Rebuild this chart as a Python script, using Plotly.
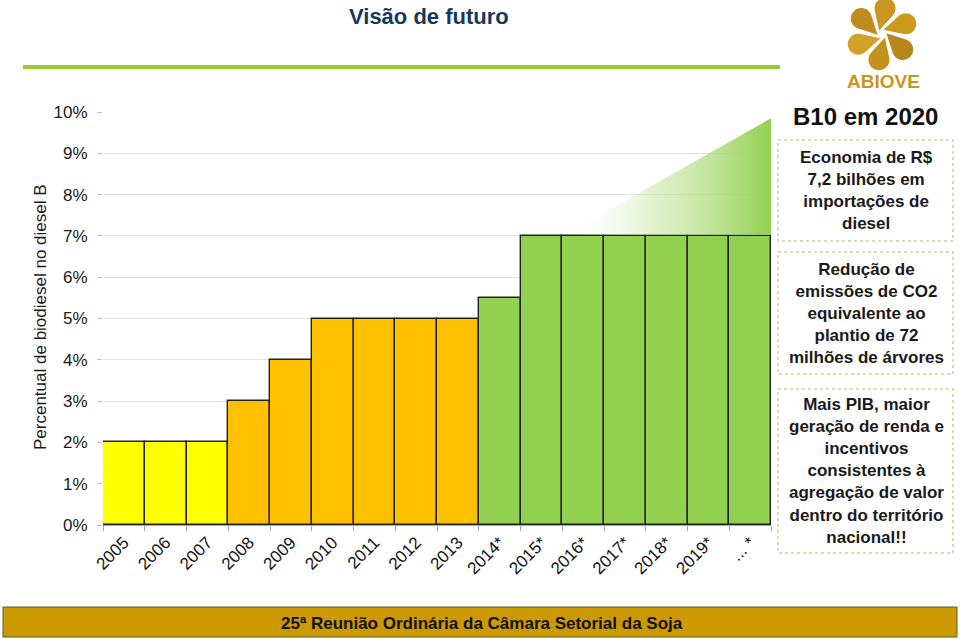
import numpy as np
import plotly.graph_objects as go

# ---------------- data ----------------
categories = ["2005", "2006", "2007", "2008", "2009", "2010", "2011", "2012", "2013",
              "2014*", "2015*", "2016*", "2017*", "2018*", "2019*", "... *"]
values_pct = [2, 2, 2, 3, 4, 5, 5, 5, 5, 5.5, 7, 7, 7, 7, 7, 7]
y_ticks_pct = [0, 1, 2, 3, 4, 5, 6, 7, 8, 9, 10]

title_text = "Visão de futuro"
y_title = "Percentual de biodiesel no diesel B"
headline = "B10 em 2020"
box_texts = [
    "Economia de R$<br>7,2 bilhões em<br>importações de<br>diesel",
    "Redução de<br>emissões de CO2<br>equivalente ao<br>plantio de 72<br>milhões de árvores",
    "Mais PIB, maior<br>geração de renda e<br>incentivos<br>consistentes à<br>agregação de valor<br>dentro do território<br>nacional!!",
]
footer_text = "25ª Reunião Ordinária da Câmara Setorial da Soja"
logo_text = "ABIOVE"

# ---------------- styles ----------------
YELLOW, ORANGE, GREEN = "#FFFF00", "#FFC000", "#92D050"
bar_colors = [YELLOW] * 3 + [ORANGE] * 6 + [GREEN] * 7

W, H = 960, 639
L, R, T, B = 103, 189, 112, 114
PW, PH = W - L - R, H - T - B


def pxx(x):
    return (x - L) / PW


def pxy(y):
    return (H - B - y) / PH


values = [v / 100 for v in values_pct]

fig = go.Figure()

# gradient wedge above the B7 bars (decoration)
wedge_top = 0.0985
fig.add_trace(go.Scatter(
    x=[pxx(565), 1.0, 1.0, pxx(565)],
    y=[values[-1] + 0.0003, values[-1] + 0.0003, wedge_top, values[-1] + 0.0003],
    xaxis="x2", yaxis="y",
    mode="lines", line=dict(width=0),
    fill="toself",
    fillgradient=dict(type="horizontal",
                      colorscale=[[0, "rgba(255,255,255,0)"], [0.4, "rgba(205,234,172,0.55)"],
                                  [1, "rgba(146,208,80,1)"]]),
    hoverinfo="skip", showlegend=False,
))

fig.add_trace(go.Bar(
    x=categories, y=values,
    marker=dict(color=bar_colors, line=dict(color="#222222", width=1.4)),
    showlegend=False,
))

shapes = []
annotations = []

# title
annotations.append(dict(text=f"<b>{title_text}</b>", x=pxx(429), y=pxy(16), xref="paper", yref="paper",
                        showarrow=False, xanchor="center", yanchor="middle",
                        font=dict(size=22, color="#17375E", family="Liberation Sans, Arial")))
# green rule
shapes.append(dict(type="line", xref="paper", yref="paper", x0=pxx(23), x1=pxx(780), y0=pxy(67), y1=pxy(67),
                   line=dict(color="#99CC33", width=4)))

# logo petals
cx, cy = 882, 34
r, d = 10.5, 23.0
alpha = np.arcsin(r / d)
theta = np.linspace(np.pi / 2 + alpha, -(np.pi / 2 + alpha), 30)
local = np.vstack([np.concatenate([[0.0], d + r * np.cos(theta)]),
                   np.concatenate([[0.0], r * np.sin(theta)])])
petal_cols = ["#C99A1E", "#B8861A", "#C4921C", "#D0A22A", "#BE8C1C", "#C9971F"]
for k in range(6):
    ang = np.deg2rad(60 * k - 15)
    tip_ang = ang + np.deg2rad(-55)
    tip = np.array([cx + 4.5 * np.cos(tip_ang), cy + 4.5 * np.sin(tip_ang)])
    rot = np.array([[np.cos(ang), -np.sin(ang)], [np.sin(ang), np.cos(ang)]])
    pts = rot @ local
    xs = pts[0] + tip[0]
    ys = pts[1] + tip[1]
    path = "M " + " L ".join(f"{pxx(a):.5f},{pxy(b):.5f}" for a, b in zip(xs, ys)) + " Z"
    shapes.append(dict(type="path", xref="paper", yref="paper", path=path,
                       fillcolor=petal_cols[k], line=dict(width=0)))
annotations.append(dict(text=f"<b>{logo_text}</b>", x=pxx(883), y=pxy(82), xref="paper", yref="paper",
                        showarrow=False, xanchor="center", yanchor="middle",
                        font=dict(size=19, color="#C8961E", family="Liberation Sans, Arial")))

# headline
annotations.append(dict(text=f"<b>{headline}</b>", x=pxx(865), y=pxy(116), xref="paper", yref="paper",
                        showarrow=False, xanchor="center", yanchor="middle",
                        font=dict(size=24, color="#111111", family="Liberation Sans, Arial")))

# text boxes
boxes = [(140, 241), (252, 374), (389, 553)]
for (y0, y1), txt in zip(boxes, box_texts):
    shapes.append(dict(type="rect", xref="paper", yref="paper", x0=pxx(778), x1=pxx(953),
                       y0=pxy(y0), y1=pxy(y1), line=dict(color="#C3D69B", width=1.5, dash="dot"),
                       fillcolor="rgba(0,0,0,0)"))
    annotations.append(dict(text=f"<b>{txt}</b>", x=pxx(866), y=pxy((y0 + y1) / 2), xref="paper", yref="paper",
                            showarrow=False, xanchor="center", yanchor="middle", align="center",
                            font=dict(size=17, color="#1a1a1a", family="Liberation Sans, Arial")))

# y axis title
annotations.append(dict(text=y_title, x=pxx(40), y=pxy(317), xref="paper", yref="paper", textangle=-90,
                        showarrow=False, xanchor="center", yanchor="middle",
                        font=dict(size=17, color="#1a1a1a", family="Liberation Sans, Arial")))

# footer
shapes.append(dict(type="rect", xref="paper", yref="paper", x0=pxx(3), x1=pxx(957), y0=pxy(607), y1=pxy(637),
                   fillcolor="#CC9900", line=dict(color="#4F6228", width=1)))
annotations.append(dict(text=f"<b>{footer_text}</b>", x=pxx(482), y=pxy(623), xref="paper", yref="paper",
                        showarrow=False, xanchor="center", yanchor="middle",
                        font=dict(size=17, color="#111111",
                                  family="Liberation Sans Narrow, Arial Narrow, Liberation Sans")))

fig.update_layout(
    width=W, height=H,
    margin=dict(l=L, r=R, t=T, b=B, pad=0),
    paper_bgcolor="white", plot_bgcolor="white",
    bargap=0,
    shapes=shapes, annotations=annotations,
    xaxis=dict(type="category", showgrid=False, showline=True, linecolor="#A6A6A6", linewidth=1,
               ticks="outside", tickson="boundaries", ticklen=5, tickcolor="#A6A6A6",
               tickangle=-45, tickfont=dict(size=17, color="#111111", family="Liberation Sans, Arial"),
               range=[-0.5, len(categories) - 0.5]),
    xaxis2=dict(overlaying="x", range=[0, 1], visible=False, anchor="y"),
    yaxis=dict(range=[0, 0.1], tickvals=[v / 100 for v in y_ticks_pct], tickformat=".0%",
               showgrid=True, gridcolor="#E3E3E3", gridwidth=1, zeroline=False,
               showline=False, ticks="outside", ticklen=5, tickcolor="#BFBFBF",
               ticklabelstandoff=6,
               tickfont=dict(size=17, color="#1a1a1a", family="Liberation Sans, Arial")),
)

fig.write_html("out.html")
